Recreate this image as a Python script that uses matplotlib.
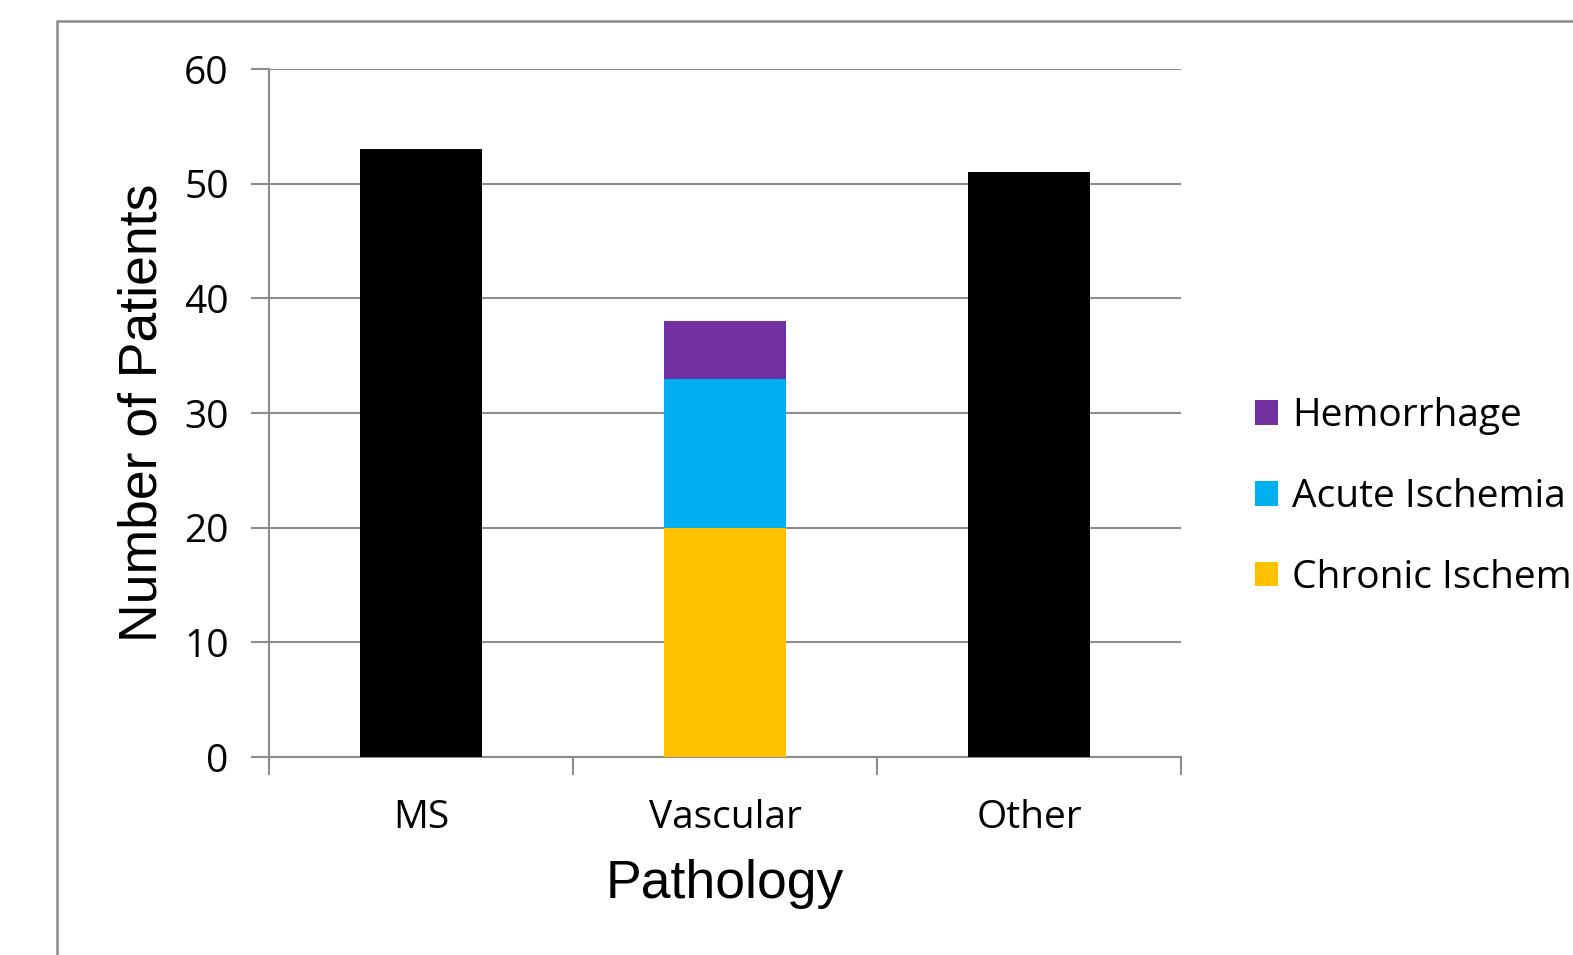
import numpy as np
import matplotlib.pyplot as plt
from matplotlib.patches import Rectangle

# data
categories = ['MS', 'Vascular', 'Other']
solid_values = [53, 0, 51]          # black bars
chronic_ischemia = [0, 20, 0]
acute_ischemia = [0, 13, 0]
hemorrhage = [0, 5, 0]
yticks = [0, 10, 20, 30, 40, 50, 60]

tick_font = 'Open Sans'
label_font = 'Liberation Sans'
grid_col = '#8c8c8c'

fig = plt.figure(figsize=(15.73, 9.55), dpi=100)
ax = fig.add_axes([269/1573, 1-757/955, (1181-269)/1573, (757-69)/955])

x = np.arange(len(categories))
w = 0.40
ax.bar(x, solid_values, w, color='black', zorder=3)
b1 = ax.bar(x, chronic_ischemia, w, color='#FFC000', zorder=3, label='Chronic Ischemia')
bottom = np.array(chronic_ischemia)
b2 = ax.bar(x, acute_ischemia, w, bottom=bottom, color='#00B0F0', zorder=3, label='Acute Ischemia')
bottom = bottom + np.array(acute_ischemia)
b3 = ax.bar(x, hemorrhage, w, bottom=bottom, color='#7030A0', zorder=3, label='Hemorrhage')

ax.set_xlim(-0.5, len(categories)-0.5)
ax.set_ylim(0, 60)

# y axis
ax.set_yticks(yticks)
ax.set_yticklabels([str(v) for v in yticks], fontname=tick_font, fontsize=28)
ax.tick_params(axis='y', length=13, width=1.5, color=grid_col, pad=16)
ax.yaxis.grid(True, color=grid_col, linewidth=1.5, zorder=0)

# x axis: ticks at boundaries, labels at centres
ax.set_xticks(np.arange(-0.5, len(categories)))
ax.set_xticklabels([])
ax.tick_params(axis='x', which='major', length=13, width=1.5, color=grid_col)
ax.set_xticks(x, minor=True)
ax.set_xticklabels(categories, minor=True, fontname=tick_font, fontsize=28)
ax.tick_params(axis='x', which='minor', length=0, pad=30)

for s in ['top', 'right']:
    ax.spines[s].set_visible(False)
for s in ['left', 'bottom']:
    ax.spines[s].set_color(grid_col)
    ax.spines[s].set_linewidth(1.5)

ax.set_ylabel('Number of Patients', fontname=label_font, fontsize=38.5, labelpad=12)
ax.set_xlabel('Pathology', fontname=label_font, fontsize=38.5, labelpad=16)

leg = fig.legend(handles=[b3, b2, b1], loc='center left',
                 bbox_to_anchor=(1255/1573, 1-497/955),
                 frameon=False, prop={'family': tick_font, 'size': 28},
                 handlelength=0.6, handleheight=0.6, handletextpad=0.35,
                 labelspacing=1.1, borderaxespad=0, borderpad=0)

# outer chart border (cut off at right and bottom)
fig.patches.append(Rectangle((57/1573, -0.1), 1.2, 1-21/955+0.1,
                             transform=fig.transFigure, fill=False,
                             edgecolor='#8a8a8a', linewidth=1.8))

fig.savefig('out.png', dpi=100)
